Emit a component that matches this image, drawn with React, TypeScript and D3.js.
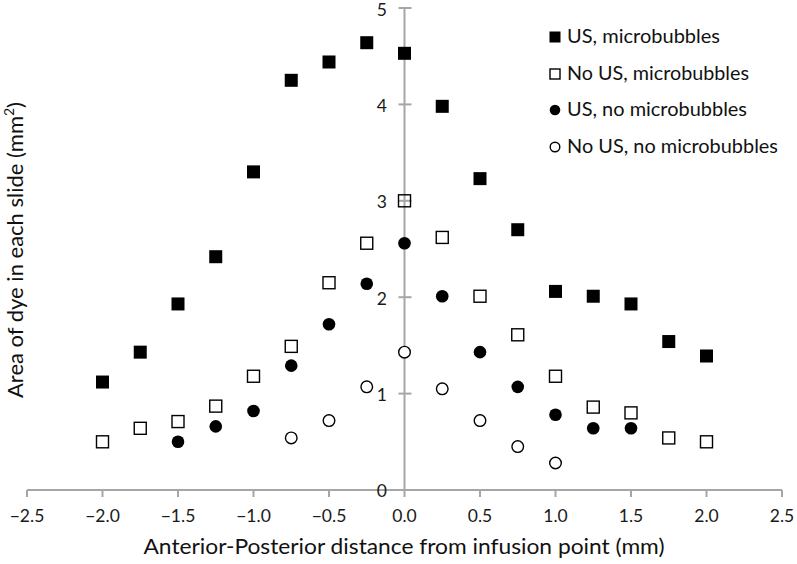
import React from "react";
import * as d3 from "d3";

const xPositions = [-2, -1.75, -1.5, -1.25, -1, -0.75, -0.5, -0.25, 0, 0.25, 0.5, 0.75, 1, 1.25, 1.5, 1.75, 2];
const usMicro = [1.12, 1.43, 1.93, 2.42, 3.3, 4.25, 4.44, 4.64, 4.53, 3.98, 3.23, 2.7, 2.06, 2.01, 1.93, 1.54, 1.39];
const noUsMicro = [0.5, 0.64, 0.71, 0.87, 1.18, 1.49, 2.15, 2.56, 3.0, 2.62, 2.01, 1.61, 1.18, 0.86, 0.8, 0.54, 0.5];
const usNoMicroX = [-1.5, -1.25, -1, -0.75, -0.5, -0.25, 0, 0.25, 0.5, 0.75, 1, 1.25, 1.5];
const usNoMicro = [0.5, 0.66, 0.82, 1.29, 1.72, 2.14, 2.56, 2.01, 1.43, 1.07, 0.78, 0.64, 0.64];
const noUsNoMicroX = [-0.75, -0.5, -0.25, 0, 0.25, 0.5, 0.75, 1];
const noUsNoMicro = [0.54, 0.72, 1.07, 1.43, 1.05, 0.72, 0.45, 0.28];

const xTicks = [-2.5, -2, -1.5, -1, -0.5, 0, 0.5, 1, 1.5, 2, 2.5];
const yTicks = [0, 1, 2, 3, 4, 5];
const legendLabels = ["US, microbubbles", "No US, microbubbles", "US, no microbubbles", "No US, no microbubbles"];
const legendWidths = [153, 182, 180, 211];

const FONT = "Lato, 'Open Sans', sans-serif";
const AXIS = "#a6a6a6";

export default function App() {
  const x = d3.scaleLinear().domain([-2.5, 2.5]).range([27, 782]);
  const y = d3.scaleLinear().domain([0, 5]).range([490, 8]);
  const fmt = d3.format(".1f");

  const sq = (cx: number, cy: number, s: number, filled: boolean, key: string) => (
    <rect key={key} x={cx - s / 2} y={cy - s / 2} width={s} height={s}
      fill={filled ? "#000" : "none"} stroke="#000" strokeWidth={filled ? 0 : 1.4} />
  );
  const circ = (cx: number, cy: number, r: number, filled: boolean, key: string) => (
    <circle key={key} cx={cx} cy={cy} r={r} fill={filled ? "#000" : "#fff"} stroke="#000" strokeWidth={filled ? 0 : 1.4} />
  );

  const legendY = [37, 74, 110, 147];

  return (
    <div style={{ position: "absolute", left: 0, top: 0 }}>
      <svg width={797} height={564} style={{ display: "block", background: "#fff" }}>
        <rect width={797} height={564} fill="#fff" />
        {/* x axis */}
        <line x1={x(-2.5)} x2={x(2.5)} y1={y(0)} y2={y(0)} stroke={AXIS} strokeWidth={2} />
        {xTicks.map((t) => (
          <g key={"xt" + t}>
            <line x1={x(t)} x2={x(t)} y1={y(0)} y2={y(0) + 7} stroke={AXIS} strokeWidth={2} />
            <text x={x(t)} y={518} textAnchor="middle" dominantBaseline="middle" fontFamily={FONT} fontSize={17.5} fill="#1a1a1a">
              {fmt(t)}
            </text>
          </g>
        ))}
        {/* y axis */}
        <line x1={x(0)} x2={x(0)} y1={y(0)} y2={y(5)} stroke={AXIS} strokeWidth={2} />
        {yTicks.map((t) => (
          <g key={"yt" + t}>
            <line x1={x(0) - 6} x2={x(0) + 7} y1={y(t)} y2={y(t)} stroke={AXIS} strokeWidth={2} />
            <text x={387} y={Math.max(y(t) + 3, 12)} textAnchor="end" dominantBaseline="middle" fontFamily={FONT} fontSize={17.5} fill="#1a1a1a">
              {t}
            </text>
          </g>
        ))}
        {/* series */}
        {xPositions.map((xv, i) => sq(x(xv), y(usMicro[i]), 13, true, "a" + i))}
        {xPositions.map((xv, i) => sq(x(xv), y(noUsMicro[i]), 12, false, "b" + i))}
        {usNoMicroX.map((xv, i) => circ(x(xv), y(usNoMicro[i]), 6.3, true, "c" + i))}
        {noUsNoMicroX.map((xv, i) => circ(x(xv), y(noUsNoMicro[i]), 5.8, false, "d" + i))}
        {/* legend */}
        {legendLabels.map((lab, i) => {
          const cy = legendY[i];
          const mk = i === 0 ? sq(555, cy, 11, true, "lm")
            : i === 1 ? sq(555, cy, 10, false, "lm")
            : i === 2 ? circ(555, cy, 5.3, true, "lm")
            : circ(555, cy, 4.8, false, "lm");
          return (
            <g key={"lg" + i}>
              {mk}
              <text x={567} y={cy + 1} dominantBaseline="middle" fontFamily={FONT} fontSize={20} fill="#111"
                textLength={legendWidths[i]} lengthAdjust="spacingAndGlyphs">{lab}</text>
            </g>
          );
        })}
        {/* axis titles */}
        <text x={404} y={549} textAnchor="middle" dominantBaseline="middle" fontFamily={FONT} fontSize={21.5} fill="#111"
          textLength={521} lengthAdjust="spacingAndGlyphs">
          Anterior-Posterior distance from infusion point (mm)
        </text>
        <text transform={`translate(17,250) rotate(-90)`} textAnchor="middle" dominantBaseline="middle" fontFamily={FONT} fontSize={22} fill="#111">
          Area of dye in each slide (mm<tspan dy={-7} fontSize={14}>2</tspan><tspan dy={7}>)</tspan>
        </text>
      </svg>
    </div>
  );
}
